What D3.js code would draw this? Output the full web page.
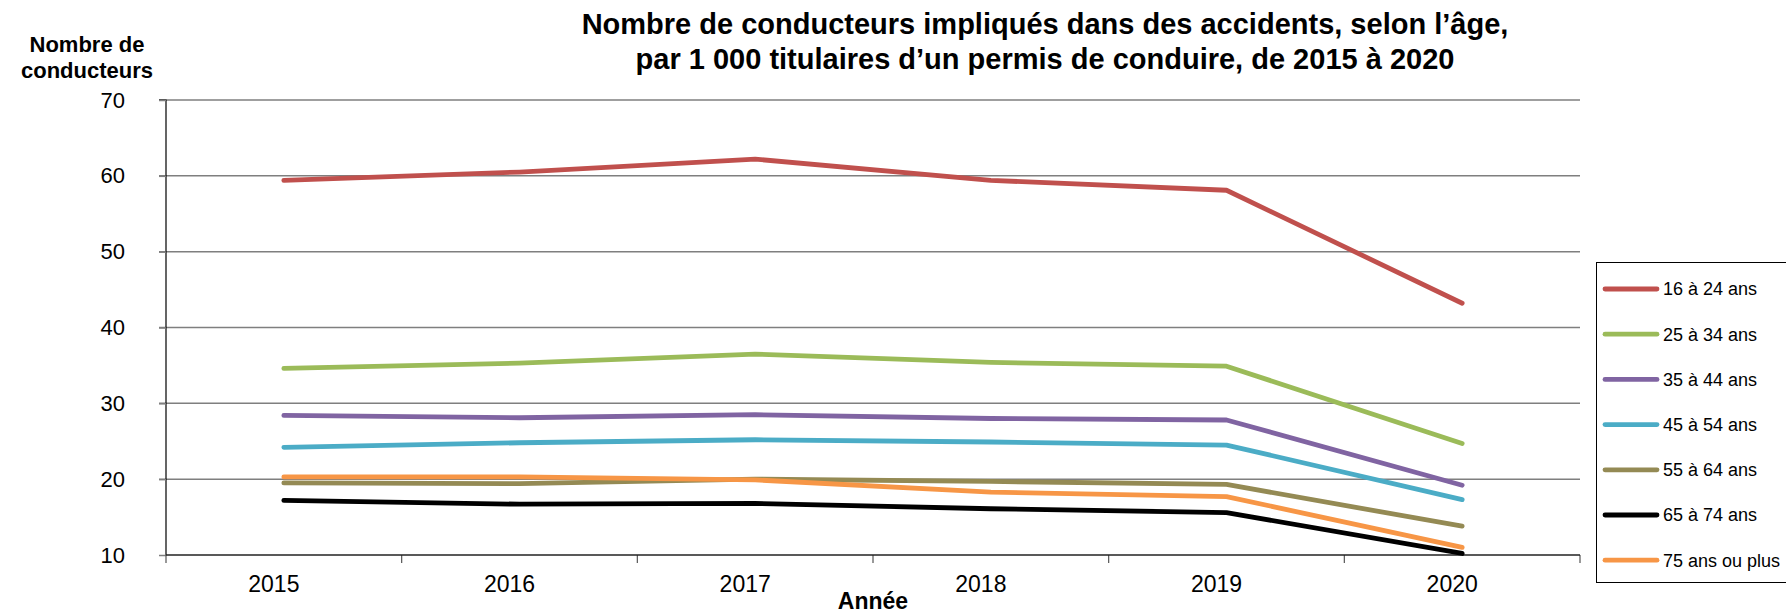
<!DOCTYPE html>
<html>
<head>
<meta charset="utf-8">
<script src="https://cdn.jsdelivr.net/npm/d3@7"></script>
<style>
  body { margin: 0; background: #fff; }
  svg { display: block; font-family: "Liberation Sans", Arial, sans-serif; }
</style>
</head>
<body>
<svg id="chart" width="1786" height="614"></svg>
<script>
// Data
const years = ["2015", "2016", "2017", "2018", "2019", "2020"];
const groups = ["16 à 24 ans", "25 à 34 ans", "35 à 44 ans", "45 à 54 ans", "55 à 64 ans", "65 à 74 ans", "75 ans ou plus"];
const v16_24 = [59.4, 60.5, 62.2, 59.4, 58.1, 43.2];
const v25_34 = [34.6, 35.3, 36.5, 35.4, 34.9, 24.7];
const v35_44 = [28.4, 28.1, 28.5, 28.0, 27.8, 19.2];
const v45_54 = [24.2, 24.8, 25.2, 24.9, 24.5, 17.3];
const v55_64 = [19.5, 19.4, 20.0, 19.7, 19.3, 13.8];
const v65_74 = [17.2, 16.7, 16.8, 16.1, 15.6, 10.2];
const v75 = [20.3, 20.3, 19.9, 18.3, 17.7, 11.0];
const yTicks = [10, 20, 30, 40, 50, 60, 70];

const seriesValues = [v16_24, v25_34, v35_44, v45_54, v55_64, v65_74, v75];
const colors = ["#C0504D", "#9BBB59", "#8064A2", "#4BACC6", "#948A54", "#000000", "#F79646"];

const svg = d3.select("#chart");

// plot area
const plotLeft = 166, plotRight = 1580, plotTop = 100, plotBottom = 555;

const x = d3.scaleBand().domain(years).range([plotLeft, plotRight]).padding(0);
const y = d3.scaleLinear().domain([10, 70]).range([plotBottom, plotTop]);

// gridlines
svg.append("g")
  .selectAll("line")
  .data(yTicks.slice(1))
  .join("line")
  .attr("x1", plotLeft - 7)
  .attr("x2", plotRight)
  .attr("y1", d => y(d))
  .attr("y2", d => y(d))
  .attr("stroke", "#7f7f7f")
  .attr("stroke-width", 1.5);

// y axis
const yAxis = svg.append("g")
  .attr("transform", `translate(${plotLeft},0)`)
  .call(d3.axisLeft(y).tickValues(yTicks).tickSize(7).tickPadding(34).tickFormat(d3.format("d")));
yAxis.select(".domain").attr("stroke", "#000").attr("stroke-width", 1.2).attr("d", `M-7,${plotTop}H0V${plotBottom}`);
yAxis.selectAll(".tick line").attr("stroke", "#7f7f7f").attr("stroke-width", 1.5);
yAxis.selectAll(".tick text")
  .attr("font-size", 22)
  .attr("font-family", "Liberation Sans, Arial, sans-serif")
  .attr("fill", "#000");

// x axis (labels centred in bands, ticks on band edges)
const xAxis = svg.append("g")
  .attr("transform", `translate(0,${plotBottom})`)
  .call(d3.axisBottom(x).tickSize(0).tickPadding(21));
xAxis.select(".domain").remove();
xAxis.selectAll(".tick text")
  .attr("font-size", 23)
  .attr("dx", -10)
  .attr("font-family", "Liberation Sans, Arial, sans-serif")
  .attr("fill", "#000");

const edges = years.map(d => x(d)).concat([x.range()[1]]);
svg.append("g")
  .selectAll("line")
  .data(edges)
  .join("line")
  .attr("x1", d => d)
  .attr("x2", d => d)
  .attr("y1", plotBottom)
  .attr("y2", plotBottom + 8)
  .attr("stroke", "#555")
  .attr("stroke-width", 1.2);

svg.append("line")
  .attr("x1", plotLeft)
  .attr("x2", plotRight)
  .attr("y1", plotBottom)
  .attr("y2", plotBottom)
  .attr("stroke", "#222")
  .attr("stroke-width", 1.6);

// series lines
const line = d3.line()
  .x((d, i) => x(years[i]) + x.bandwidth() / 2)
  .y(d => y(d));

svg.append("g")
  .selectAll("path")
  .data(seriesValues)
  .join("path")
  .attr("fill", "none")
  .attr("stroke", (d, i) => colors[i])
  .attr("stroke-width", 4.8)
  .attr("stroke-linejoin", "round")
  .attr("stroke-linecap", "round")
  .attr("d", line);

// title
const title = svg.append("text")
  .attr("text-anchor", "middle")
  .attr("font-weight", "bold")
  .attr("font-size", 29)
  .attr("fill", "#000");
title.append("tspan").attr("x", 1045).attr("y", 34)
  .text("Nombre de conducteurs impliqués dans des accidents, selon l’âge,");
title.append("tspan").attr("x", 1045).attr("y", 69)
  .text("par 1 000 titulaires d’un permis de conduire, de 2015 à 2020");

// y axis title
const yTitle = svg.append("text")
  .attr("text-anchor", "middle")
  .attr("font-weight", "bold")
  .attr("font-size", 22)
  .attr("fill", "#000");
yTitle.append("tspan").attr("x", 87).attr("y", 52).text("Nombre de");
yTitle.append("tspan").attr("x", 87).attr("y", 78).text("conducteurs");

// x axis title
svg.append("text")
  .attr("x", 873)
  .attr("y", 609)
  .attr("text-anchor", "middle")
  .attr("font-weight", "bold")
  .attr("font-size", 23)
  .attr("fill", "#000")
  .text("Année");

// legend
const legend = svg.append("g");
legend.append("rect")
  .attr("x", 1596.5)
  .attr("y", 262.5)
  .attr("width", 200)
  .attr("height", 320)
  .attr("fill", "#fff")
  .attr("stroke", "#000")
  .attr("stroke-width", 1);

const items = legend.selectAll("g.item")
  .data(groups)
  .join("g")
  .attr("class", "item")
  .attr("transform", (d, i) => `translate(0,${289 + i * 45.2})`);
items.append("line")
  .attr("x1", 1605)
  .attr("x2", 1657)
  .attr("stroke", (d, i) => colors[i])
  .attr("stroke-width", 4.8)
  .attr("stroke-linecap", "round");
items.append("text")
  .attr("x", 1663)
  .attr("dy", "0.35em")
  .attr("font-size", 18)
  .attr("fill", "#000")
  .text(d => d);
</script>
</body>
</html>
